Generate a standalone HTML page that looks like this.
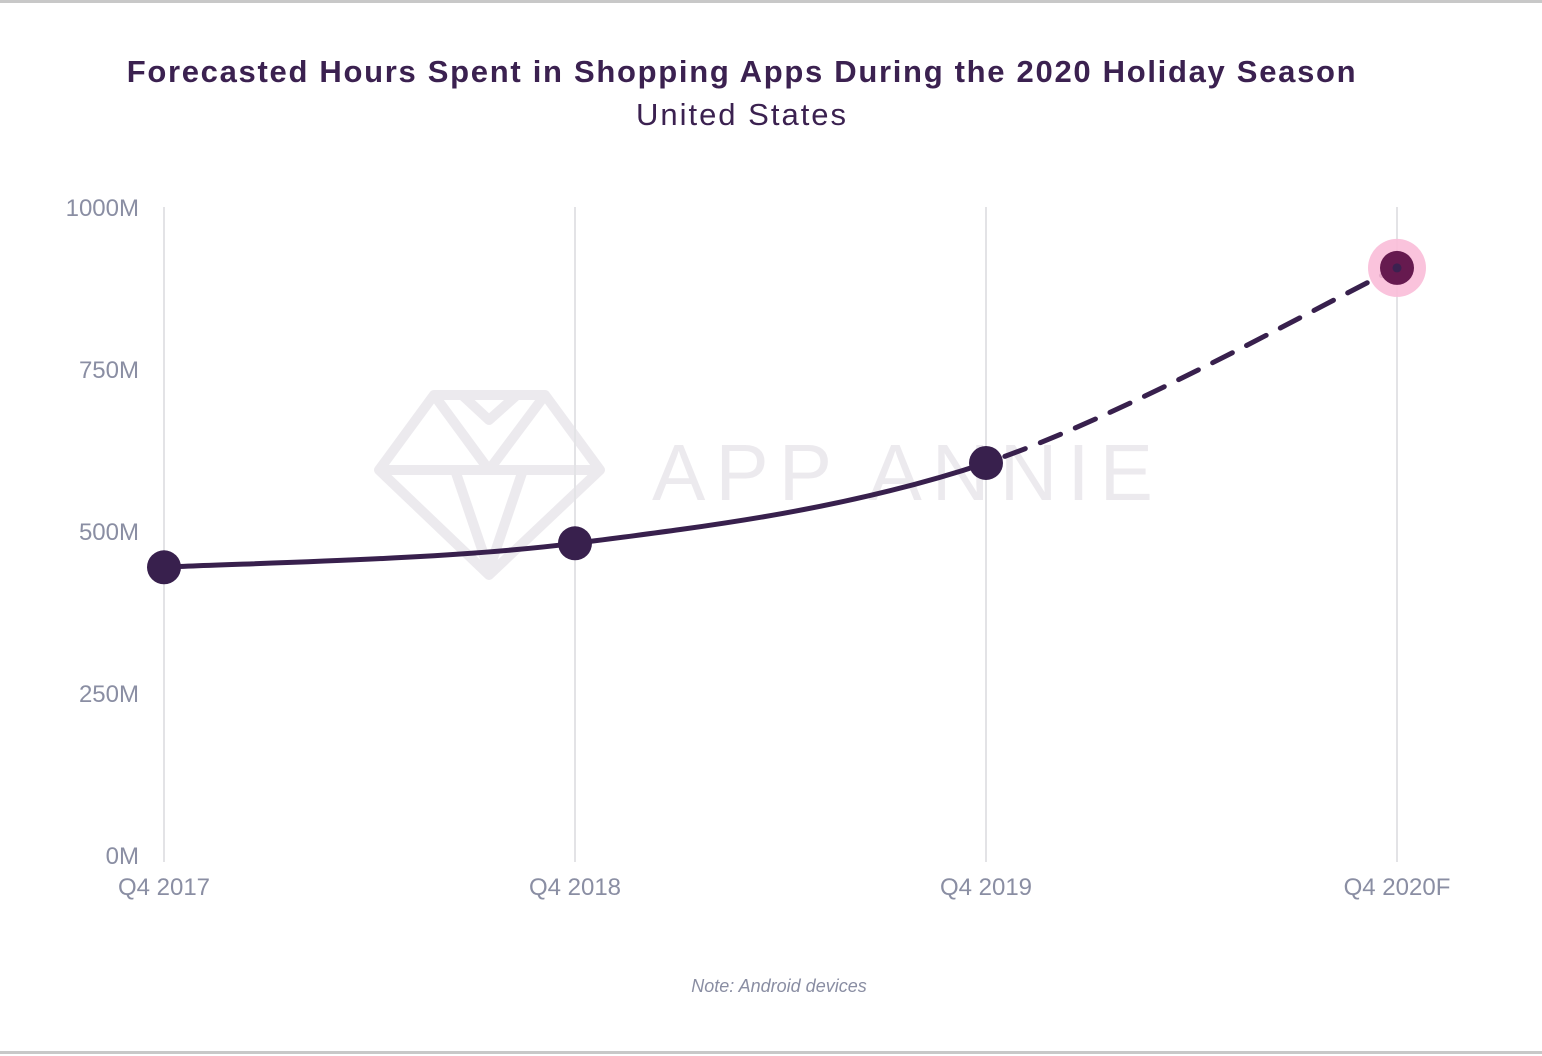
<!DOCTYPE html>
<html><head><meta charset="utf-8"><style>
html,body{margin:0;padding:0;background:#fff;}
body{width:1542px;height:1056px;position:relative;overflow:hidden;font-family:"Liberation Sans",sans-serif;}
</style></head><body>
<div style="position:absolute;left:0;top:0;width:1542px;height:3px;background:#c8c8c8"></div>
<div style="position:absolute;left:0;top:1051px;width:1542px;height:3px;background:#c8c8c8"></div>
<div style="position:absolute;left:0;width:1484px;top:54px;text-align:center;font-size:31px;font-weight:bold;color:#3b2150;letter-spacing:1.7px">Forecasted Hours Spent in Shopping Apps During the 2020 Holiday Season</div>
<div style="position:absolute;left:0;width:1484px;top:97px;text-align:center;font-size:31px;color:#3b2150;letter-spacing:2px">United States</div>
<div style="position:absolute;left:0;width:1558px;top:976px;text-align:center;font-size:18px;font-style:italic;color:#8a8ea3">Note: Android devices</div>
<svg id="chart" width="1542" height="1056" style="position:absolute;left:0;top:0">
<g opacity="0.09" stroke="#3b2150" stroke-width="10" fill="none" stroke-linejoin="round">
<polygon points="379,470 434,395 545,395 600,470 489,575"/>
<polyline points="379,470 600,470"/><polyline points="434,395 489,470 545,395"/>
<polyline points="462,395 489,420 517,395"/>
<polyline points="455,470 489,570 523,470"/>
<text x="652" y="500" font-size="80" fill="#3b2150" stroke="none" letter-spacing="10" font-family="Liberation Sans, sans-serif">APP ANNIE</text>
</g>
</svg>
<script>
const categories=["Q4 2017","Q4 2018","Q4 2019","Q4 2020F"];
const values=[444,481,605,906];
const yTicks=[0,250,500,750,1000];
const yTickLabels=["0M","250M","500M","750M","1000M"];
const svg=document.getElementById('chart');
const NS="http://www.w3.org/2000/svg";
const x=i=>164+i*411;
const y=v=>855-v*0.648;
function mk(t,a){const e=document.createElementNS(NS,t);for(const k in a)e.setAttribute(k,a[k]);svg.appendChild(e);return e;}
categories.forEach((c,i)=>{
 const g=mk('line',{x1:x(i),x2:x(i),y1:207,y2:862,stroke:'#e3e3e6','stroke-width':2});
 
 
 const t=mk('text',{x:x(i),y:895,'text-anchor':'middle','font-size':24,fill:'#8a8ea3'});
 t.textContent=c;
 
 
});
yTicks.forEach((v,i)=>{
 const t=mk('text',{x:139,y:y(v)+9,'text-anchor':'end','font-size':24,fill:'#8a8ea3'});
 t.textContent=yTickLabels[i];
 
 
});
const P=values.map((v,i)=>[x(i),y(v)]);
function seg(i){
 const p0=P[Math.max(i-1,0)],p1=P[i],p2=P[i+1],p3=P[Math.min(i+2,P.length-1)];
 const k=1/6;
 return `M${p1[0]},${p1[1]} C${p1[0]+(p2[0]-p0[0])*k},${p1[1]+(p2[1]-p0[1])*k} ${p2[0]-(p3[0]-p1[0])*k},${p2[1]-(p3[1]-p1[1])*k} ${p2[0]},${p2[1]}`;
}
let d="";for(let i=0;i<P.length-2;i++)d+=seg(i)+" ";
const l=mk('path',{d:d,fill:'none',stroke:'#38204d','stroke-width':5});


const f=mk('path',{d:seg(P.length-2),fill:'none',stroke:'#38204d','stroke-width':5,'stroke-dasharray':'22 16','stroke-linecap':'round','stroke-dashoffset':'-20'});


P.forEach((p,i)=>{
 if(i===P.length-1){
  const h=mk('circle',{cx:p[0],cy:p[1],r:29,fill:'#f9bcd8','fill-opacity':0.9});
  
  
  const c=mk('circle',{cx:p[0],cy:p[1],r:17,fill:'#661a4f'});
  
  
  const dd=mk('circle',{cx:p[0],cy:p[1],r:4.5,fill:'#3b2150'});
  
  
 } else {
  const c=mk('circle',{cx:p[0],cy:p[1],r:17,fill:'#38204d'});
  
  
 }
});
</script>
</body></html>
